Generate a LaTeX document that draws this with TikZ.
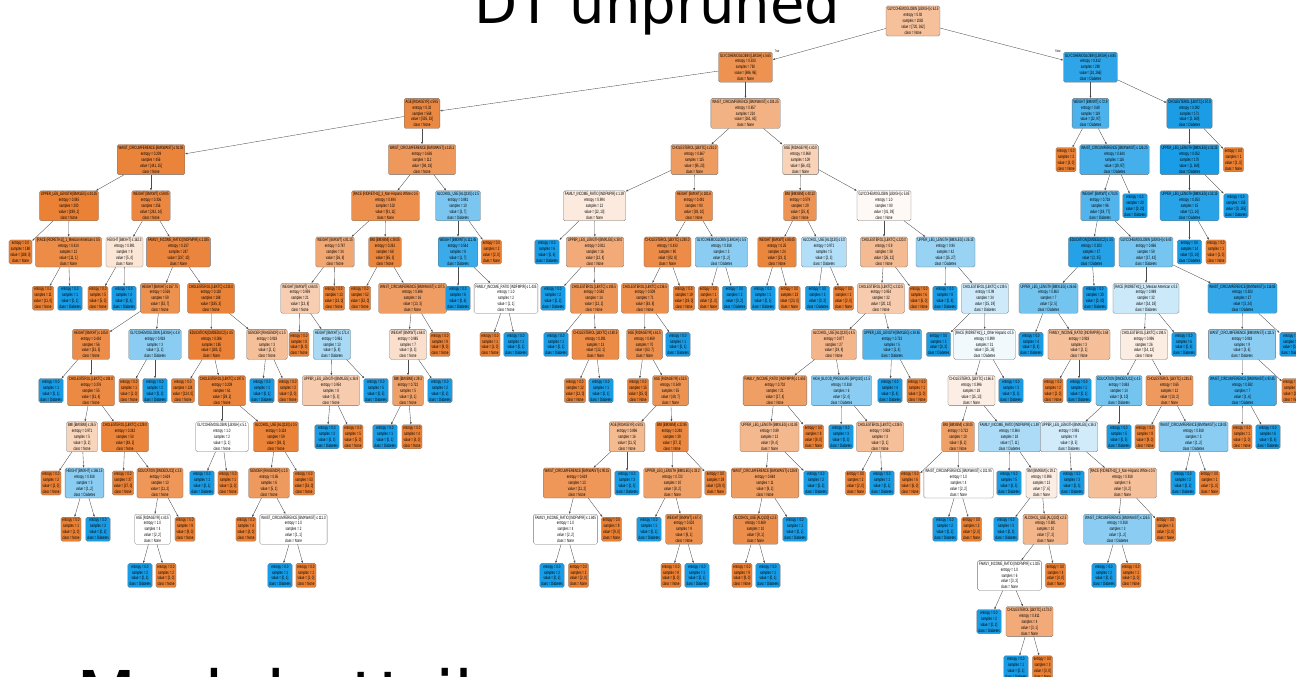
\documentclass[tikz,border=0pt]{standalone}
\usepackage{fontspec}
\setmainfont{DejaVu Sans}
\newfontfamily\dtfont[FakeStretch=0.62]{Liberation Sans}
\usetikzlibrary{arrows.meta}

\definecolor{dtorange}{HTML}{EA8034}
\definecolor{dtblue}{HTML}{189CE6}

% split node: name, x, depth, rule, entropy, value None, value Diabetes
\newcommand{\dnode}[7]{%
  \pgfmathsetmacro\dtmix{abs(#6-#7)/max(#6,#7)*100}%
  \ifnum#6<#7\relax\def\dtcls{Diabetes}\def\dtcol{dtblue}\else\def\dtcls{None}\def\dtcol{dtorange}\fi
  \node[dtbox,fill=\dtcol!\dtmix!white] (#1) at (#2,{21+46.2*#3})
    {#4\\entropy = #5\\samples = \the\numexpr#6+#7\relax\\value = [#6, #7]\\class = \dtcls};
}
% same, with the parent it hangs from
\newcommand{\dsplit}[8]{\dnode{#1}{#3}{#4}{#5}{#6}{#7}{#8}\draw[dtedge] (#2) -- (#1);}
% leaf: name, parent, x, depth, value None, value Diabetes
\newcommand{\dleaf}[6]{%
  \ifnum#5<#6\relax\def\dtcls{Diabetes}\def\dtcol{dtblue}\else\def\dtcls{None}\def\dtcol{dtorange}\fi
  \node[dtbox,fill=\dtcol] (#1) at (#3,{21+46.2*#4})
    {entropy = 0.0\\samples = \the\numexpr#5+#6\relax\\value = [#5, #6]\\class = \dtcls};
  \draw[dtedge] (#2) -- (#1);
}

\begin{document}
\begin{tikzpicture}[x=1pt,y=-1pt,
  dtbox/.style={draw=black!55, line width=0.3pt, rounded corners=1.6pt, align=center,
    inner sep=1.5pt, font=\dtfont\fontsize{4.7}{5.9}\selectfont},
  dtedge/.style={draw=black!70, line width=0.35pt, -{Latex[length=2.4pt,width=1.9pt]}},
  edgelab/.style={inner sep=0pt, font=\dtfont\fontsize{3.6}{4}\selectfont},
  bigtext/.style={inner sep=0pt, font=\fontsize{56}{60}\selectfont}]

\useasboundingbox (0,0) rectangle (1296,677);
\clip (0,0) rectangle (1296,677);

\node[bigtext, anchor=base] (title) at (657.5,24) {DT unpruned};
\node[bigtext, anchor=base west, font=\fontsize{70}{74}\selectfont] (subtitle) at (76,721) {Model attrib};

% depth 0-1
\dnode{n}{913}{0}{GLYCOHEMOGLOBIN [LBXGH] ≤ 6.15}{0.92}{720}{362}
\dsplit{nl}{n}{745.5}{1}{GLYCOHEMOGLOBIN [LBXGH] ≤ 5.65}{0.533}{696}{96}
\dsplit{nr}{n}{1090.5}{1}{GLYCOHEMOGLOBIN [LBXGH] ≤ 6.85}{0.412}{24}{266}
\node[edgelab] (truelab) at (777,51) {True};
\node[edgelab] (falselab) at (1058,51) {False};

% depth 2
\dsplit{nll}{nl}{422}{2}{AGE [RIDAGEYR] ≤ 59.5}{0.32}{535}{33}
\dsplit{nlr}{nl}{745.5}{2}{WAIST\_CIRCUMFERENCE [BMXWAIST] ≤ 104.25}{0.857}{161}{63}
\dsplit{nrl}{nr}{1090.5}{2}{WEIGHT [BMXWT] ≤ 72.9}{0.69}{22}{97}
\dsplit{nrr}{nr}{1189.5}{2}{CHOLESTEROL [LBXTC] ≤ 57.0}{0.092}{2}{169}

% depth 3
\dsplit{nlll}{nll}{151}{3}{WAIST\_CIRCUMFERENCE [BMXWAIST] ≤ 91.05}{0.209}{441}{15}
\dsplit{nllr}{nll}{422}{3}{WAIST\_CIRCUMFERENCE [BMXWAIST] ≤ 115.1}{0.636}{94}{18}
\dsplit{nlrl}{nlr}{694.5}{3}{CHOLESTEROL [LBXTC] ≤ 251.0}{0.667}{95}{20}
\dsplit{nlrr}{nlr}{800.5}{3}{AGE [RIDAGEYR] ≤ 40.0}{0.968}{66}{43}
\dleaf{nrll}{nrl}{1066}{3}{3}{0}
\dsplit{nrlr}{nrl}{1114.5}{3}{WAIST\_CIRCUMFERENCE [BMXWAIST] ≤ 126.25}{0.644}{19}{97}
\dsplit{nrrl}{nrr}{1189.5}{3}{UPPER\_LEG\_LENGTH [BMXLEG] ≤ 32.25}{0.052}{1}{169}
\dleaf{nrrr}{nrr}{1233.5}{3}{1}{0}

% depth 4
\dsplit{nllll}{nlll}{69}{4}{UPPER\_LEG\_LENGTH [BMXLEG] ≤ 44.25}{0.045}{199}{1}
\dsplit{nlllr}{nlll}{151}{4}{WEIGHT [BMXWT] ≤ 59.85}{0.306}{242}{14}
\dsplit{nllrl}{nllr}{385.5}{4}{[RACE (RIDRETH1)]\_3\_Non-Hispanic White ≤ 0.5}{0.494}{91}{11}
\dsplit{nllrr}{nllr}{458}{4}{ALCOHOL\_USE [ALQ130] ≤ 2.5}{0.881}{3}{7}
\dsplit{nlrll}{nlrl}{594.5}{4}{FAMILY\_INCOME\_RATIO [INDFMPIR] ≤ 1.39}{0.994}{12}{10}
\dsplit{nlrlr}{nlrl}{694}{4}{HEIGHT [BMXHT] ≤ 181.6}{0.491}{83}{10}
\dsplit{nlrrl}{nlrr}{800}{4}{BMI [BMXBMI] ≤ 40.13}{0.579}{25}{4}
\dsplit{nlrrr}{nlrr}{884}{4}{GLYCOHEMOGLOBIN [LBXGH] ≤ 5.85}{1.0}{41}{39}
\dsplit{nrlrl}{nrlr}{1100}{4}{WEIGHT [BMXWT] ≤ 70.25}{0.718}{19}{77}
\dleaf{nrlrr}{nrlr}{1135}{4}{0}{20}
\dsplit{nrrll}{nrrl}{1189.5}{4}{UPPER\_LEG\_LENGTH [BMXLEG] ≤ 32.15}{0.353}{1}{14}
\dleaf{nrrlr}{nrrl}{1236}{4}{0}{155}

% depth 5
\dleaf{nlllll}{nllll}{20.5}{5}{188}{0}
\dsplit{nllllr}{nllll}{68.5}{5}{[RACE (RIDRETH1)]\_1\_Mexican American ≤ 0.5}{0.414}{11}{1}
\dsplit{nlllrl}{nlllr}{124.5}{5}{HEIGHT [BMXHT] ≤ 162.3}{0.991}{5}{4}
\dsplit{nlllrr}{nlllr}{178.5}{5}{FAMILY\_INCOME\_RATIO [INDFMPIR] ≤ 1.035}{0.237}{237}{10}
\dsplit{nllrll}{nllrl}{335}{5}{WEIGHT [BMXWT] ≤ 81.15}{0.787}{26}{8}
\dsplit{nllrlr}{nllrl}{385}{5}{BMI [BMXBMI] ≤ 38.05}{0.261}{65}{3}
\dsplit{nllrrl}{nllrr}{458}{5}{WEIGHT [BMXWT] ≤ 111.45}{0.544}{1}{7}
\dleaf{nllrrr}{nllrr}{491.5}{5}{2}{0}
\dleaf{nlrlll}{nlrll}{547}{5}{0}{6}
\dsplit{nlrllr}{nlrll}{595}{5}{UPPER\_LEG\_LENGTH [BMXLEG] ≤ 38.0}{0.811}{12}{4}
\dsplit{nlrlrl}{nlrlr}{667.5}{5}{CHOLESTEROL [LBXTC] ≤ 240.0}{0.433}{82}{8}
\dsplit{nlrlrr}{nlrlr}{721.5}{5}{GLYCOHEMOGLOBIN [LBXGH] ≤ 5.5}{0.918}{1}{2}
\dsplit{nlrrll}{nlrrl}{777}{5}{WEIGHT [BMXWT] ≤ 88.45}{0.25}{23}{1}
\dsplit{nlrrlr}{nlrrl}{824}{5}{ALCOHOL\_USE [ALQ130] ≤ 3.0}{0.971}{2}{3}
\dsplit{nlrrrl}{nlrrr}{884}{5}{CHOLESTEROL [LBXTC] ≤ 220.0}{0.9}{26}{12}
\dsplit{nlrrrr}{nlrrr}{945.5}{5}{UPPER\_LEG\_LENGTH [BMXLEG] ≤ 36.15}{0.94}{15}{27}
\dsplit{nrlrll}{nrlrl}{1091.5}{5}{EDUCATION [DMDEDUC2] ≤ 3.5}{0.303}{2}{35}
\dsplit{nrlrlr}{nrlrl}{1146}{5}{GLYCOHEMOGLOBIN [LBXGH] ≤ 6.45}{0.866}{17}{42}
\dleaf{nrrlll}{nrrll}{1189.5}{5}{0}{14}
\dleaf{nrrllr}{nrrll}{1216}{5}{1}{0}

% depth 6
\dleaf{nllllrl}{nllllr}{43}{6}{11}{0}
\dleaf{nllllrr}{nllllr}{70}{6}{0}{1}
\dleaf{nlllrll}{nlllrl}{98}{6}{5}{0}
\dleaf{nlllrlr}{nlllrl}{124}{6}{0}{4}
\dsplit{nlllrrl}{nlllrr}{160}{6}{HEIGHT [BMXHT] ≤ 167.75}{0.526}{52}{7}
\dsplit{nlllrrr}{nlllrr}{211}{6}{CHOLESTEROL [LBXTC] ≤ 233.0}{0.118}{185}{3}
\dsplit{nllrlll}{nllrll}{300}{6}{WEIGHT [BMXWT] ≤ 66.05}{0.959}{13}{8}
\dleaf{nllrllr}{nllrll}{334}{6}{13}{0}
\dleaf{nllrlrl}{nllrlr}{360}{6}{52}{0}
\dsplit{nllrlrr}{nllrlr}{412.5}{6}{WAIST\_CIRCUMFERENCE [BMXWAIST] ≤ 107.5}{0.696}{13}{3}
\dleaf{nllrrll}{nllrrl}{458}{6}{0}{6}
\dsplit{nllrrlr}{nllrrl}{506}{6}{FAMILY\_INCOME\_RATIO [INDFMPIR] ≤ 1.435}{1.0}{1}{1}
\dleaf{nlrllrl}{nlrllr}{553}{6}{0}{2}
\dsplit{nlrllrr}{nlrllr}{594}{6}{CHOLESTEROL [LBXTC] ≤ 195.5}{0.592}{12}{2}
\dsplit{nlrlrll}{nlrlrl}{645}{6}{CHOLESTEROL [LBXTC] ≤ 236.5}{0.509}{63}{8}
\dleaf{nlrlrlr}{nlrlrl}{684}{6}{19}{0}
\dleaf{nlrlrrl}{nlrlrr}{708.5}{6}{1}{0}
\dleaf{nlrlrrr}{nlrlrr}{734.5}{6}{0}{2}
\dleaf{nlrrlll}{nlrrll}{763}{6}{0}{1}
\dleaf{nlrrllr}{nlrrll}{789.5}{6}{23}{0}
\dleaf{nlrrlrl}{nlrrlr}{817.5}{6}{0}{3}
\dleaf{nlrrlrr}{nlrrlr}{843.5}{6}{2}{0}
\dsplit{nlrrrll}{nlrrrl}{881}{6}{CHOLESTEROL [LBXTC] ≤ 210.5}{0.954}{20}{12}
\dleaf{nlrrrlr}{nlrrrl}{919}{6}{6}{0}
\dleaf{nlrrrrl}{nlrrrr}{945}{6}{0}{8}
\dsplit{nlrrrrr}{nlrrrr}{985}{6}{CHOLESTEROL [LBXTC] ≤ 139.5}{0.99}{15}{19}
\dsplit{nrlrlll}{nrlrll}{1048.5}{6}{UPPER\_LEG\_LENGTH [BMXLEG] ≤ 36.65}{0.863}{2}{5}
\dleaf{nrlrllr}{nrlrll}{1095}{6}{0}{30}
\dsplit{nrlrlrl}{nrlrlr}{1146}{6}{[RACE (RIDRETH1)]\_1\_Mexican American ≤ 0.5}{0.989}{14}{18}
\dsplit{nrlrlrr}{nrlrlr}{1242.5}{6}{WAIST\_CIRCUMFERENCE [BMXWAIST] ≤ 116.85}{0.503}{3}{24}

% depth 7
\dsplit{nlllrrll}{nlllrrl}{91}{7}{HEIGHT [BMXHT] ≤ 145.8}{0.434}{51}{5}
\dsplit{nlllrrlr}{nlllrrl}{155}{7}{GLYCOHEMOGLOBIN [LBXGH] ≤ 4.8}{0.918}{1}{2}
\dsplit{nlllrrrl}{nlllrrr}{211.5}{7}{EDUCATION [DMDEDUC2] ≤ 4.5}{0.086}{183}{2}
\dsplit{nlllrrrr}{nlllrrr}{267}{7}{GENDER [RIAGENDR] ≤ 1.5}{0.918}{2}{1}
\dleaf{nllrllll}{nllrlll}{299}{7}{8}{0}
\dsplit{nllrlllr}{nllrlll}{332}{7}{HEIGHT [BMXHT] ≤ 171.4}{0.961}{5}{8}
\dsplit{nllrlrrl}{nllrlrr}{408}{7}{WEIGHT [BMXWT] ≤ 68.0}{0.985}{4}{3}
\dleaf{nllrlrrr}{nllrlrr}{440}{7}{9}{0}
\dleaf{nllrrlrl}{nllrrlr}{490}{7}{1}{0}
\dleaf{nllrrlrr}{nllrrlr}{516}{7}{0}{1}
\dleaf{nlrllrrl}{nlrllrr}{556}{7}{0}{1}
\dsplit{nlrllrrr}{nlrllrr}{595.5}{7}{CHOLESTEROL [LBXTC] ≤ 180.5}{0.391}{12}{1}
\dsplit{nlrlrlll}{nlrlrll}{644.5}{7}{AGE [RIDAGEYR] ≤ 61.5}{0.469}{63}{7}
\dleaf{nlrlrllr}{nlrlrll}{678}{7}{0}{1}
\dsplit{nlrrrlll}{nlrrrll}{834}{7}{ALCOHOL\_USE [ALQ130] ≤ 4.5}{0.877}{19}{8}
\dsplit{nlrrrllr}{nlrrrll}{892}{7}{UPPER\_LEG\_LENGTH [BMXLEG] ≤ 38.85}{0.722}{1}{4}
\dleaf{nlrrrrrl}{nlrrrrr}{938.5}{7}{0}{3}
\dsplit{nlrrrrrr}{nlrrrrr}{984.5}{7}{[RACE (RIDRETH1)]\_1\_Other Hispanic ≤ 0.5}{0.999}{15}{16}
\dleaf{nrlrllll}{nrlrlll}{1031}{7}{0}{4}
\dsplit{nrlrlllr}{nrlrlll}{1079}{7}{FAMILY\_INCOME\_RATIO [INDFMPIR] ≤ 3.64}{0.918}{2}{1}
\dsplit{nrlrlrll}{nrlrlrl}{1144}{7}{CHOLESTEROL [LBXTC] ≤ 194.5}{0.996}{14}{12}
\dleaf{nrlrlrlr}{nrlrlrl}{1184}{7}{0}{6}
\dsplit{nrlrlrrl}{nrlrlrr}{1242}{7}{WAIST\_CIRCUMFERENCE [BMXWAIST] ≤ 111.5}{0.918}{3}{6}
\dleaf{nrlrlrrr}{nrlrlrr}{1292}{7}{0}{18}

% depth 8
\dleaf{nlllrrlll}{nlllrrll}{51}{8}{0}{1}
\dsplit{nlllrrllr}{nlllrrll}{91}{8}{CHOLESTEROL [LBXTC] ≤ 184.0}{0.376}{51}{4}
\dleaf{nlllrrlrl}{nlllrrlr}{129}{8}{1}{0}
\dleaf{nlllrrlrr}{nlllrrlr}{155}{8}{0}{2}
\dleaf{nlllrrrll}{nlllrrrl}{183}{8}{124}{0}
\dsplit{nlllrrrlr}{nlllrrrl}{222}{8}{CHOLESTEROL [LBXTC] ≤ 197.5}{0.209}{59}{2}
\dleaf{nlllrrrrl}{nlllrrrr}{262}{8}{0}{1}
\dleaf{nlllrrrrr}{nlllrrrr}{288}{8}{2}{0}
\dsplit{nllrlllrl}{nllrlllr}{331}{8}{UPPER\_LEG\_LENGTH [BMXLEG] ≤ 36.9}{0.954}{5}{3}
\dleaf{nllrlllrr}{nllrlllr}{376}{8}{0}{5}
\dsplit{nllrlrrll}{nllrlrrl}{408}{8}{BMI [BMXBMI] ≤ 29.3}{0.722}{4}{1}
\dleaf{nllrlrrlr}{nllrlrrl}{440}{8}{0}{2}
\dleaf{nlrllrrrl}{nlrllrrr}{575}{8}{12}{0}
\dleaf{nlrllrrrr}{nlrllrrr}{601}{8}{0}{1}
\dleaf{nlrlrllll}{nlrlrlll}{638}{8}{15}{0}
\dsplit{nlrlrlllr}{nlrlrlll}{670.5}{8}{AGE [RIDAGEYR] ≤ 52.5}{0.549}{48}{7}
\dsplit{nlrrrllll}{nlrrrlll}{775}{8}{FAMILY\_INCOME\_RATIO [INDFMPIR] ≤ 1.655}{0.702}{17}{4}
\dsplit{nlrrrlllr}{nlrrrlll}{841.5}{8}{HIGH\_BLOOD\_PRESSURE [BPQ020] ≤ 1.5}{0.918}{2}{4}
\dleaf{nlrrrllrl}{nlrrrllr}{890}{8}{0}{4}
\dleaf{nlrrrllrr}{nlrrrllr}{917}{8}{1}{0}
\dsplit{nlrrrrrrl}{nlrrrrrr}{971.5}{8}{CHOLESTEROL [LBXTC] ≤ 166.5}{0.996}{15}{13}
\dleaf{nlrrrrrrr}{nlrrrrrr}{1011}{8}{0}{3}
\dleaf{nrlrlllrl}{nrlrlllr}{1053}{8}{2}{0}
\dleaf{nrlrlllrr}{nrlrlllr}{1079}{8}{0}{1}
\dsplit{nrlrlrlll}{nrlrlrll}{1119}{8}{EDUCATION [DMDEDUC2] ≤ 4.5}{0.863}{4}{10}
\dsplit{nrlrlrllr}{nrlrlrll}{1169.5}{8}{CHOLESTEROL [LBXTC] ≤ 281.5}{0.65}{10}{2}
\dsplit{nrlrlrrll}{nrlrlrrl}{1242.5}{8}{WAIST\_CIRCUMFERENCE [BMXWAIST] ≤ 93.45}{0.592}{1}{6}
\dleaf{nrlrlrrlr}{nrlrlrrl}{1292}{8}{2}{0}

% depth 9
\dsplit{nlllrrllrl}{nlllrrllr}{82}{9}{BMI [BMXBMI] ≤ 26.5}{0.971}{3}{2}
\dsplit{nlllrrllrr}{nlllrrllr}{125}{9}{CHOLESTEROL [LBXTC] ≤ 229.0}{0.242}{48}{2}
\dsplit{nlllrrrlrl}{nlllrrrlr}{222}{9}{GLYCOHEMOGLOBIN [LBXGH] ≤ 5.1}{1.0}{1}{1}
\dsplit{nlllrrrlrr}{nlllrrrlr}{276}{9}{ALCOHOL\_USE [ALQ130] ≤ 0.5}{0.124}{58}{1}
\dleaf{nllrlllrll}{nllrlllrl}{327}{9}{0}{3}
\dleaf{nllrlllrlr}{nllrlllrl}{353}{9}{5}{0}
\dleaf{nllrlrrlll}{nllrlrrll}{385}{9}{0}{1}
\dleaf{nllrlrrllr}{nllrlrrll}{412}{9}{4}{0}
\dsplit{nlrlrlllrl}{nlrlrlllr}{627}{9}{AGE [RIDAGEYR] ≤ 50.5}{0.896}{11}{5}
\dsplit{nlrlrlllrr}{nlrlrlllr}{672}{9}{BMI [BMXBMI] ≤ 22.95}{0.292}{37}{2}
\dsplit{nlrrrlllll}{nlrrrllll}{769.5}{9}{UPPER\_LEG\_LENGTH [BMXLEG] ≤ 41.85}{0.89}{9}{4}
\dleaf{nlrrrllllr}{nlrrrllll}{813.5}{9}{8}{0}
\dleaf{nlrrrlllrl}{nlrrrlllr}{841}{9}{0}{3}
\dsplit{nlrrrlllrr}{nlrrrlllr}{880}{9}{CHOLESTEROL [LBXTC] ≤ 239.5}{0.918}{2}{1}
\dsplit{nlrrrrrrll}{nlrrrrrrl}{958}{9}{BMI [BMXBMI] ≤ 28.05}{0.722}{8}{2}
\dsplit{nlrrrrrrlr}{nlrrrrrrl}{1009.5}{9}{FAMILY\_INCOME\_RATIO [INDFMPIR] ≤ 1.49}{0.964}{7}{11}
\dsplit{nrlrlrllll}{nrlrlrlll}{1069}{9}{UPPER\_LEG\_LENGTH [BMXLEG] ≤ 36.3}{0.991}{4}{5}
\dleaf{nrlrlrlllr}{nrlrlrlll}{1119}{9}{0}{5}
\dleaf{nrlrlrllrl}{nrlrlrllr}{1145}{9}{9}{0}
\dsplit{nrlrlrllrr}{nrlrlrllr}{1193.5}{9}{WAIST\_CIRCUMFERENCE [BMXWAIST] ≤ 119.05}{0.918}{1}{2}
\dleaf{nrlrlrrlll}{nrlrlrrll}{1242}{9}{1}{0}
\dleaf{nrlrlrrllr}{nrlrlrrll}{1268}{9}{0}{6}

% depth 10
\dleaf{nlllrrllrll}{nlllrrllrl}{51}{10}{2}{0}
\dsplit{nlllrrllrlr}{nlllrrllrl}{84.5}{10}{HEIGHT [BMXHT] ≤ 166.15}{0.918}{1}{2}
\dleaf{nlllrrllrrl}{nlllrrllrr}{123}{10}{37}{0}
\dsplit{nlllrrllrrr}{nlllrrllrr}{160}{10}{EDUCATION [DMDEDUC2] ≤ 2.5}{0.619}{11}{2}
\dleaf{nlllrrrlrll}{nlllrrrlrl}{202}{10}{0}{1}
\dleaf{nlllrrrlrlr}{nlllrrrlrl}{228}{10}{1}{0}
\dsplit{nlllrrrlrrl}{nlllrrrlrr}{269}{10}{GENDER [RIAGENDR] ≤ 1.5}{0.65}{5}{1}
\dleaf{nlllrrrlrrr}{nlllrrrlrr}{304}{10}{53}{0}
\dsplit{nlrlrlllrll}{nlrlrlllrl}{577}{10}{WAIST\_CIRCUMFERENCE [BMXWAIST] ≤ 90.15}{0.619}{11}{2}
\dleaf{nlrlrlllrlr}{nlrlrlllrl}{627}{10}{0}{3}
\dsplit{nlrlrlllrrl}{nlrlrlllrr}{672.5}{10}{UPPER\_LEG\_LENGTH [BMXLEG] ≤ 33.2}{0.722}{8}{2}
\dleaf{nlrlrlllrrr}{nlrlrlllrr}{715.5}{10}{29}{0}
\dsplit{nlrrrllllll}{nlrrrlllll}{765}{10}{WAIST\_CIRCUMFERENCE [BMXWAIST] ≤ 126.9}{0.684}{9}{2}
\dleaf{nlrrrlllllr}{nlrrrlllll}{816}{10}{0}{2}
\dleaf{nlrrrlllrrl}{nlrrrlllrr}{855.5}{10}{2}{0}
\dleaf{nlrrrlllrrr}{nlrrrlllrr}{882}{10}{0}{1}
\dleaf{nlrrrrrrlll}{nlrrrrrrll}{910}{10}{6}{0}
\dsplit{nlrrrrrrllr}{nlrrrrrrll}{958.5}{10}{WAIST\_CIRCUMFERENCE [BMXWAIST] ≤ 101.95}{1.0}{2}{2}
\dleaf{nlrrrrrrlrl}{nlrrrrrrlr}{1009}{10}{0}{5}
\dsplit{nlrrrrrrlrr}{nlrrrrrrlr}{1041.5}{10}{BMI [BMXBMI] ≤ 29.1}{0.996}{7}{6}
\dleaf{nrlrlrlllll}{nrlrlrllll}{1072}{10}{0}{3}
\dsplit{nrlrlrllllr}{nrlrlrllll}{1122.5}{10}{[RACE (RIDRETH1)]\_3\_Non-Hispanic White ≤ 0.5}{0.918}{4}{2}
\dleaf{nrlrlrllrrl}{nrlrlrllrr}{1183}{10}{0}{2}
\dleaf{nrlrlrllrrr}{nrlrlrllrr}{1209.5}{10}{1}{0}

% depth 11
\dleaf{nlllrrllrlrl}{nlllrrllrlr}{71}{11}{1}{0}
\dleaf{nlllrrllrlrr}{nlllrrllrlr}{98}{11}{0}{2}
\dsplit{nlllrrllrrrl}{nlllrrllrrr}{152.5}{11}{AGE [RIDAGEYR] ≤ 43.5}{1.0}{2}{2}
\dleaf{nlllrrllrrrr}{nlllrrllrrr}{185}{11}{9}{0}
\dleaf{nlllrrrlrrll}{nlllrrrlrrl}{246}{11}{4}{0}
\dsplit{nlllrrrlrrlr}{nlllrrrlrrl}{293.5}{11}{WAIST\_CIRCUMFERENCE [BMXWAIST] ≤ 111.0}{1.0}{1}{1}
\dsplit{nlrlrlllrlll}{nlrlrlllrll}{565.5}{11}{FAMILY\_INCOME\_RATIO [INDFMPIR] ≤ 1.845}{1.0}{2}{2}
\dleaf{nlrlrlllrllr}{nlrlrlllrll}{611.5}{11}{9}{0}
\dleaf{nlrlrlllrrll}{nlrlrlllrrl}{649}{11}{0}{1}
\dsplit{nlrlrlllrrlr}{nlrlrlllrrl}{684}{11}{WEIGHT [BMXWT] ≤ 67.4}{0.503}{8}{1}
\dsplit{nlrrrlllllll}{nlrrrllllll}{755.5}{11}{ALCOHOL\_USE [ALQ130] ≤ 2.5}{0.469}{9}{1}
\dleaf{nlrrrllllllr}{nlrrrllllll}{795}{11}{0}{1}
\dleaf{nlrrrrrrllrl}{nlrrrrrrllr}{945}{11}{0}{2}
\dleaf{nlrrrrrrllrr}{nlrrrrrrllr}{971.5}{11}{2}{0}
\dleaf{nlrrrrrrlrrl}{nlrrrrrrlrr}{1006}{11}{0}{3}
\dsplit{nlrrrrrrlrrr}{nlrrrrrrlrr}{1045.5}{11}{ALCOHOL\_USE [ALQ130] ≤ 2.5}{0.881}{7}{3}
\dsplit{nrlrlrllllrl}{nrlrlrllllr}{1117.5}{11}{WAIST\_CIRCUMFERENCE [BMXWAIST] ≤ 126.5}{0.918}{1}{2}
\dleaf{nrlrlrllllrr}{nrlrlrllllr}{1165.5}{11}{3}{0}

% depth 12-14
\dleaf{nlllrrllrrrll}{nlllrrllrrrl}{140}{12}{0}{2}
\dleaf{nlllrrllrrrlr}{nlllrrllrrrl}{166}{12}{2}{0}
\dleaf{nlllrrrlrrlrl}{nlllrrrlrrlr}{280}{12}{0}{1}
\dleaf{nlllrrrlrrlrr}{nlllrrrlrrlr}{306}{12}{1}{0}
\dleaf{nlrlrlllrllll}{nlrlrlllrlll}{552}{12}{0}{2}
\dleaf{nlrlrlllrlllr}{nlrlrlllrlll}{578.5}{12}{2}{0}
\dleaf{nlrlrlllrrlrl}{nlrlrlllrrlr}{671}{12}{8}{0}
\dleaf{nlrlrlllrrlrr}{nlrlrlllrrlr}{697}{12}{0}{1}
\dleaf{nlrrrllllllll}{nlrrrlllllll}{742}{12}{9}{0}
\dleaf{nlrrrlllllllr}{nlrrrlllllll}{768}{12}{0}{1}
\dsplit{nlrrrrrrlrrrl}{nlrrrrrrlrrr}{1009.5}{12}{FAMILY\_INCOME\_RATIO [INDFMPIR] ≤ 1.025}{1.0}{3}{3}
\dleaf{nlrrrrrrlrrrr}{nlrrrrrrlrrr}{1055.5}{12}{4}{0}
\dleaf{nrlrlrllllrll}{nrlrlrllllrl}{1104}{12}{0}{2}
\dleaf{nrlrlrllllrlr}{nrlrlrllllrl}{1131}{12}{1}{0}
\dleaf{nlrrrrrrlrrrll}{nlrrrrrrlrrrl}{989}{13}{0}{2}
\dsplit{nlrrrrrrlrrrlr}{nlrrrrrrlrrrl}{1029.5}{13}{CHOLESTEROL [LBXTC] ≤ 173.0}{0.811}{3}{1}
\dleaf{nlrrrrrrlrrrlrl}{nlrrrrrrlrrrlr}{1016}{14}{0}{1}
\dleaf{nlrrrrrrlrrrlrr}{nlrrrrrrlrrrlr}{1042.5}{14}{3}{0}

\end{tikzpicture}
\end{document}
